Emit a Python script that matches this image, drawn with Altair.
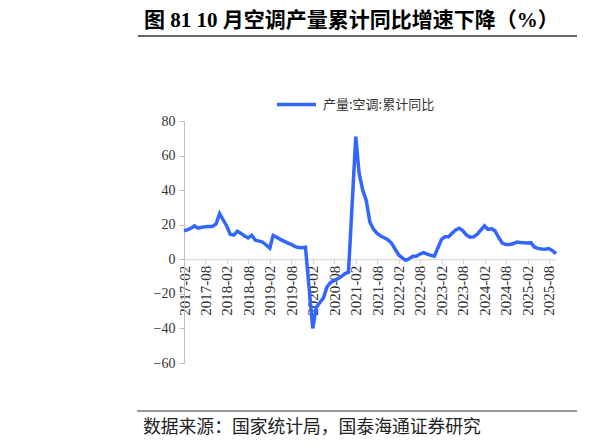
import altair as alt
import pandas as pd

TITLE = "图 81 10 月空调产量累计同比增速下降（%）"
SOURCE = "数据来源：国家统计局，国泰海通证券研究"
SERIES = "产量:空调:累计同比"

# Monthly cumulative YoY (%), February..December of each year (no January release)
years = [2017, 2018, 2019, 2020, 2021, 2022, 2023, 2024, 2025]
v2017 = [16.5, 17.0, 18.0, 19.3, 18.0, 18.5, 18.8, 19.0, 19.0, 20.5, 26.4]
v2018 = [19.0, 14.5, 14.0, 16.2, 15.0, 13.5, 12.3, 13.8, 11.0, 10.5, 10.0]
v2019 = [6.5, 13.8, 12.8, 11.5, 10.5, 9.5, 8.7, 7.5, 6.8, 6.7, 7.0]
v2020 = [-40.0, -28.0, -25.0, -22.5, -16.0, -13.5, -12.3, -11.2, -10.0, -8.3, -7.5]
v2021 = [71.0, 50.0, 40.0, 34.0, 21.5, 17.5, 15.0, 13.5, 12.5, 11.3, 9.4]
v2022 = [2.5, 1.0, -0.6, 0.3, 1.7, 1.8, 3.0, 3.8, 3.0, 2.3, 1.8]
v2023 = [11.5, 13.0, 13.0, 15.0, 17.0, 18.0, 16.5, 14.0, 12.8, 13.0, 14.5]
v2024 = [19.3, 17.3, 17.7, 16.4, 12.5, 9.4, 8.5, 8.6, 9.0, 10.0, 9.7]
v2025 = [9.4, 9.6, 7.0, 6.3, 6.0, 5.8, 6.2, 5.0, 3.3]
all_vals = [v2017, v2018, v2019, v2020, v2021, v2022, v2023, v2024, v2025]

tick_months = [(y, m) for y in range(2017, 2026) for m in (2, 8)]

rows = []
for y, vals in zip(years, all_vals):
    for i, v in enumerate(vals):
        rows.append({"date": f"{y}/{i + 2:02d}/01", "value": v, "series": SERIES})
df = pd.DataFrame(rows)

W, H = 372, 242
YMIN, YMAX = -60, 80
zero_offset = -H * (0 - YMIN) / (YMAX - YMIN)

line = alt.Chart(df).mark_line(strokeWidth=3.5, interpolate="linear").encode(
    x=alt.X(
        "date:T",
        scale=alt.Scale(domain=[alt.DateTime(year=2017, month=2, date=1),
                                alt.DateTime(year=2025, month=10, date=1)]),
        axis=alt.Axis(
            title=None, format="%Y-%m",
            values=[alt.DateTime(year=y, month=m, date=1) for y, m in tick_months],
            labelAngle=-90, offset=zero_offset, grid=False,
            domainColor="#D0D0D0", tickColor="#D0D0D0", tickSize=4,
            labelFont="Liberation Serif", labelFontSize=15, labelColor="#333333",
            labelPadding=2, labelOverlap=False,
        ),
    ),
    y=alt.Y(
        "value:Q",
        scale=alt.Scale(domain=[YMIN, YMAX], nice=False),
        axis=alt.Axis(
            title=None, values=[-60, -40, -20, 0, 20, 40, 60, 80], grid=False,
            domainColor="#BFBFBF", tickColor="#BFBFBF", tickSize=5,
            labelFont="Liberation Serif", labelFontSize=14, labelColor="#333333",
            labelPadding=4,
        ),
    ),
    color=alt.Color(
        "series:N",
        scale=alt.Scale(range=["#3366FF"]),
        legend=alt.Legend(
            title=None, orient="none", legendX=91, legendY=-38,
            symbolType="stroke", symbolSize=1521, symbolStrokeWidth=3.5,
            labelFont="Noto Sans CJK SC", labelFontSize=13, labelColor="#333333",
            labelOffset=5,
        ),
    ),
)

title_txt = alt.Chart(pd.DataFrame({"t": [TITLE]})).mark_text(
    align="left", baseline="middle", font="Liberation Serif, Noto Sans CJK SC",
    fontSize=21, fontWeight="bold", color="#000000",
).encode(text="t:N", x=alt.value(-40), y=alt.value(-100))

title_rule = alt.Chart(pd.DataFrame({"a": [0]})).mark_rule(
    color="#333333", strokeWidth=1.5
).encode(x=alt.value(-46), x2=alt.value(393), y=alt.value(-85))

source_rule = alt.Chart(pd.DataFrame({"a": [0]})).mark_rule(
    color="#333333", strokeWidth=1.2
).encode(x=alt.value(-47), x2=alt.value(393), y=alt.value(290))

source_txt = alt.Chart(pd.DataFrame({"t": [SOURCE]})).mark_text(
    align="left", baseline="middle", font="Noto Sans CJK SC",
    fontSize=17.8, color="#222222",
).encode(text="t:N", x=alt.value(-41), y=alt.value(307))

chart = alt.layer(line, title_txt, title_rule, source_rule, source_txt).properties(
    width=W, height=H,
    padding={"left": 176, "top": 113, "right": 36, "bottom": 77},
    autosize=alt.AutoSizeParams(type="none"),
).configure_view(stroke=None)

chart.save("out.html", embed_options={"renderer": "svg", "actions": False})
